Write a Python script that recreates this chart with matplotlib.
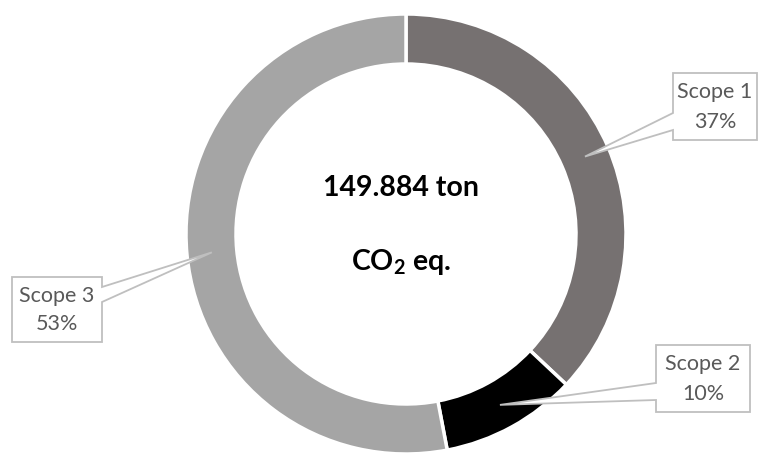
import numpy as np
import matplotlib
matplotlib.use("Agg")
import matplotlib.pyplot as plt
from matplotlib.patches import Polygon

plt.rcParams["mathtext.fontset"] = "custom"
plt.rcParams["mathtext.rm"] = "Lato"
plt.rcParams["mathtext.bf"] = "Lato:bold"

categories = ["Scope 1", "Scope 2", "Scope 3"]
values = [37, 10, 53]
colors = ["#767171", "#000000", "#A5A5A5"]
total_line1 = "149.884 ton"
total_line2 = r"CO$_{\mathbf{2}}$ eq."

W, H = 761, 453
fig = plt.figure(figsize=(W / 100, H / 100), dpi=100)
ax = fig.add_axes([0, 0, 1, 1])

cx, cy = 406, H - 234
R = 220
width = 50

wedges, _ = ax.pie(values, colors=colors, startangle=90, counterclock=False,
                   radius=R, center=(cx, cy),
                   wedgeprops=dict(width=width, edgecolor="white", linewidth=2.5))
ax.set_xlim(0, W)
ax.set_ylim(0, H)
ax.set_aspect("equal")
ax.axis("off")

font = ["Lato", "DejaVu Sans"]

ax.text(401, H - 188, total_line1, ha="center", va="center", fontsize=20.5,
        fontweight="bold", family=font, color="black")
ax.text(401, H - 262, total_line2, ha="center", va="center", fontsize=20.5,
        fontweight="bold", family=font, color="black")

# callout boxes: (left, top, right, bottom) in pixels, pointer side and base y's
boxes = [
    dict(box=(673, 73, 757, 140), side="left", base=(113, 130)),
    dict(box=(656, 345, 750, 412), side="left", base=(383, 400)),
    dict(box=(12, 277, 102, 342), side="right", base=(287, 302)),
]

rmid = R - width / 2
for w, cat, val, b in zip(wedges, categories, values, boxes):
    ang = np.deg2rad((w.theta1 + w.theta2) / 2)
    tx, ty = cx + rmid * np.cos(ang), cy + rmid * np.sin(ang)
    l, t, r, bt = b["box"]
    b1, b2 = b["base"]
    if b["side"] == "left":
        pts = [(l, t), (r, t), (r, bt), (l, bt), (l, b2), None, (l, b1)]
    else:
        pts = [(l, t), (r, t), (r, b1), None, (r, b2), (r, bt), (l, bt)]
    poly = []
    for p in pts:
        if p is None:
            poly.append((tx, ty))
        else:
            poly.append((p[0], H - p[1]))
    ax.add_patch(Polygon(poly, closed=True, facecolor="white",
                         edgecolor="#BFBFBF", linewidth=1.3, zorder=5))
    xc = (l + r) / 2
    ax.text(xc, H - (t + (bt - t) * 0.29), cat, ha="center", va="center",
            fontsize=15.5, family=font, color="#595959", zorder=6)
    ax.text(xc, H - (t + (bt - t) * 0.73), f"{val}%", ha="center", va="center",
            fontsize=15.5, family=font, color="#595959", zorder=6)

fig.savefig("out.png", dpi=100)
